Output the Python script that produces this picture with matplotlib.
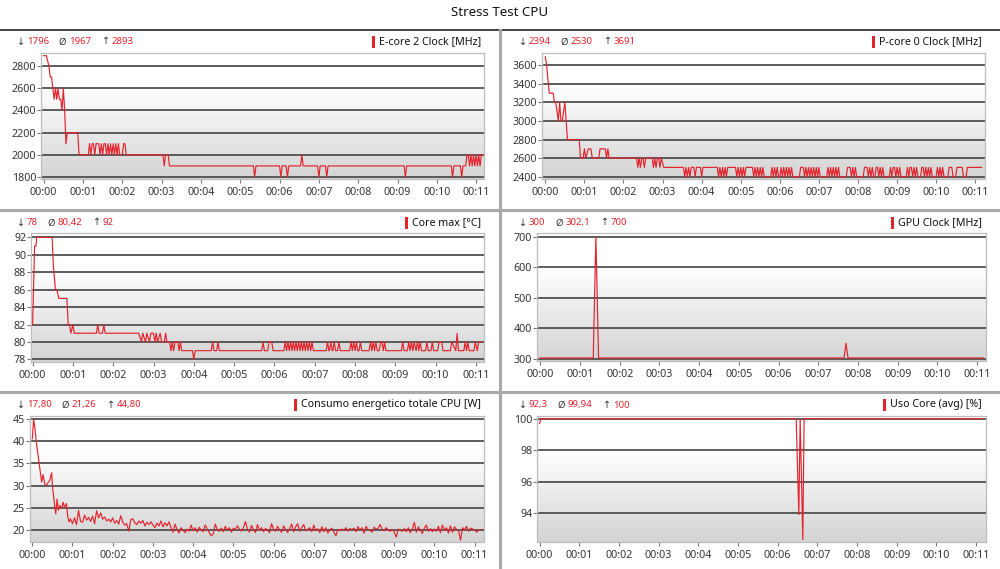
import numpy as np
import matplotlib
matplotlib.use("Agg")
import matplotlib.pyplot as plt
from matplotlib.patches import Rectangle
from matplotlib.lines import Line2D

plt.rcParams['font.family'] = ['Noto Sans', 'DejaVu Sans']

# ---------------- data: (time in seconds, value) ----------------
ecore = [(0, 2893), (4, 2893), (8, 2800), (10, 2700), (12, 2700), (14, 2600), (16, 2500), (18, 2600),
         (20, 2500), (22, 2600), (24, 2500), (26, 2500), (28, 2400), (30, 2600), (32, 2400), (34, 2100),
         (36, 2200), (52, 2200), (54, 2000),
         (68, 2000), (70, 2100), (72, 2000), (74, 2100), (76, 2100), (78, 2000), (80, 2100), (84, 2100),
         (86, 2000), (88, 2100), (90, 2000), (92, 2100), (94, 2100), (96, 2000), (98, 2100), (100, 2000),
         (102, 2100), (104, 2000), (106, 2100), (108, 2000), (110, 2100), (112, 2000), (114, 2100),
         (116, 2000), (120, 2000), (122, 2100), (124, 2100), (126, 2000),
         (182, 2000), (184, 1900), (186, 2000), (190, 2000), (192, 1900),
         (320, 1900), (322, 1800), (324, 1900), (360, 1900), (362, 1800), (364, 1900), (370, 1900),
         (372, 1800), (374, 1900), (392, 1900), (394, 2000), (396, 1900), (418, 1900), (420, 1800),
         (422, 1900), (430, 1900), (432, 1800), (434, 1900), (550, 1900), (552, 1800), (554, 1900),
         (622, 1900), (624, 1800), (626, 1900), (636, 1900), (638, 1800), (640, 1900), (644, 1900),
         (646, 2000), (648, 2000), (650, 1900), (652, 2000), (654, 1900), (656, 2000), (658, 1900),
         (660, 2000), (662, 1900), (664, 2000), (666, 1900), (668, 2000), (670, 2000)]

pcore = [(0, 3691), (2, 3600), (6, 3300), (12, 3300), (14, 3200), (16, 3200), (18, 3100), (20, 3000),
         (22, 3200), (24, 3000), (26, 3000), (28, 3100), (30, 3200), (34, 2800), (52, 2800), (54, 2600),
         (58, 2600), (60, 2700), (62, 2600), (66, 2700), (70, 2700), (72, 2600), (82, 2600), (84, 2700),
         (92, 2700), (94, 2600), (96, 2700), (98, 2600),
         (140, 2600), (142, 2500), (144, 2600), (146, 2500), (148, 2600), (150, 2600), (152, 2500),
         (154, 2600), (164, 2600), (166, 2500), (168, 2600), (170, 2500), (172, 2600), (174, 2600),
         (176, 2500), (178, 2600), (182, 2500),
         (212, 2500), (214, 2400), (216, 2500), (218, 2400), (220, 2500), (222, 2400), (224, 2500),
         (228, 2500), (230, 2400), (232, 2500), (238, 2500), (240, 2400), (242, 2500), (264, 2500),
         (266, 2400), (268, 2500), (270, 2400), (272, 2500), (274, 2400), (276, 2500), (278, 2400),
         (280, 2500), (292, 2500), (294, 2400), (296, 2500), (298, 2400), (300, 2500), (302, 2400),
         (304, 2500), (306, 2400), (308, 2500), (318, 2500), (320, 2400), (322, 2500), (324, 2400),
         (326, 2500), (328, 2400), (330, 2500), (332, 2400), (334, 2500), (336, 2400), (346, 2400),
         (348, 2500), (350, 2400), (352, 2500), (354, 2400), (356, 2500), (358, 2400), (360, 2400),
         (362, 2500), (364, 2400), (366, 2500), (368, 2400), (370, 2500), (372, 2400), (374, 2500),
         (376, 2400), (378, 2500), (380, 2400), (390, 2400), (392, 2500), (396, 2500), (398, 2400),
         (400, 2500), (402, 2400), (404, 2500), (406, 2400), (408, 2500), (410, 2400), (412, 2500),
         (414, 2400), (416, 2500), (418, 2400), (420, 2500), (422, 2400), (432, 2400), (434, 2500),
         (436, 2400), (438, 2500), (440, 2400), (442, 2500), (444, 2400), (446, 2500), (448, 2400),
         (450, 2500), (452, 2400), (462, 2400), (464, 2500), (468, 2500), (470, 2400), (472, 2500),
         (474, 2400), (476, 2500), (478, 2400), (488, 2400), (490, 2500), (494, 2500), (496, 2400),
         (498, 2500), (500, 2400), (502, 2500), (504, 2400), (506, 2400), (508, 2500), (510, 2500),
         (512, 2400), (514, 2500), (516, 2400), (518, 2500), (520, 2400), (528, 2400), (530, 2500),
         (532, 2400), (534, 2500), (536, 2500), (538, 2400), (540, 2500), (542, 2400), (544, 2500),
         (546, 2400), (554, 2400), (556, 2500), (558, 2400), (560, 2500), (562, 2500), (564, 2400),
         (566, 2500), (568, 2400), (570, 2500), (572, 2400), (576, 2400), (578, 2500), (580, 2500),
         (582, 2400), (584, 2500), (586, 2400), (588, 2500), (590, 2400), (592, 2500), (594, 2400),
         (600, 2400), (602, 2500), (604, 2400), (606, 2500), (608, 2400), (610, 2500), (612, 2400),
         (618, 2400), (620, 2500), (624, 2500), (626, 2400), (630, 2400), (632, 2500), (640, 2500),
         (642, 2400), (646, 2400), (648, 2500), (670, 2500)]

temp = [(0, 82), (3, 91), (5, 91), (6, 92), (29, 92), (31, 88.6), (34, 86), (36, 86), (39, 85), (51, 85),
        (53, 82), (55, 82), (57, 81), (60, 82), (62, 81), (95, 81), (97, 82), (99, 81), (104, 81),
        (106, 82), (108, 81),
        (158, 81), (162, 80), (164, 81), (168, 80), (170, 81), (174, 80), (176, 81), (180, 81), (182, 80),
        (184, 81), (186, 80), (190, 81), (192, 80), (196, 80), (198, 81), (200, 80), (204, 80), (206, 79),
        (208, 80), (210, 79), (212, 80), (216, 80), (218, 79), (220, 80), (222, 79), (238, 79), (240, 78),
        (242, 79), (266, 79), (268, 80), (270, 79), (274, 79), (276, 80), (278, 79),
        (341, 79), (343, 80), (345, 79), (350, 79), (352, 80), (356, 80), (358, 79), (374, 79), (376, 80),
        (378, 79), (380, 80), (382, 79), (384, 80), (386, 79), (388, 80), (390, 79), (392, 80), (394, 79),
        (396, 80), (398, 79), (400, 80), (402, 79), (404, 80), (406, 79), (408, 80), (410, 79), (412, 80),
        (414, 79), (416, 80), (418, 79), (437, 79), (439, 80), (441, 79), (442, 79), (444, 80), (446, 79),
        (447, 79), (449, 80), (451, 79), (454, 79), (456, 80), (458, 79), (472, 79), (474, 80), (476, 79),
        (478, 80), (480, 79), (482, 80), (484, 79), (486, 79), (488, 80), (490, 79), (501, 79), (503, 80),
        (505, 79), (507, 80), (509, 79), (511, 80), (513, 79), (516, 79), (518, 80), (520, 80), (522, 79),
        (524, 80), (526, 79), (528, 79), (549, 79), (551, 80), (553, 79), (558, 79), (560, 80), (562, 79),
        (564, 80), (566, 79), (568, 80), (571, 79), (573, 80), (575, 79), (577, 80), (579, 79), (585, 79),
        (587, 80), (589, 79), (593, 79), (595, 80), (597, 79), (603, 79), (605, 80), (609, 80), (611, 79),
        (622, 79), (624, 80), (630, 79), (632, 81), (634, 79), (642, 79), (644, 80), (646, 79), (648, 80),
        (650, 79), (657, 79), (659, 80), (662, 79), (664, 80), (666, 80), (668, 80)]

gpu = [(0, 302), (80, 302), (84, 700), (88, 302), (459, 302), (462, 350), (465, 302), (669, 302)]

power_head = [(0, 40.5), (2, 44.8), (4, 42.8), (6, 39.8), (8, 37.5), (10, 35.3), (12, 33.0), (14, 30.8),
              (16, 32.5), (19, 30.2), (21, 30.1), (24, 30.8), (26, 31.2), (29, 32.9), (30, 30.0),
              (33, 26.0), (35, 23.7), (37, 27.0), (39, 24.5), (41, 25.6), (44, 24.9), (46, 26.3),
              (48, 25.2), (51, 26.0), (53, 23.0), (55, 21.9), (57, 22.6)]
# from 01:00 on, one reading every 3 s
power_tail = [
    21.5, 22.8, 21.3, 24.5, 22.0, 21.8, 23.4, 22.3, 22.9, 22.0, 23.2, 21.5, 24.4, 22.8, 23.9, 22.5, 23.0, 22.1, 22.5, 21.9,
    22.8, 21.6, 22.2, 21.4, 23.3, 21.8, 21.2, 21.5, 19.8, 22.4, 22.6, 21.7, 21.3, 22.1, 21.6, 22.2, 21.0, 21.8, 21.3, 21.9,
    21.2, 20.6, 21.6, 21.0, 22.1, 20.8, 21.7, 21.0, 21.9, 20.6, 19.6, 21.4, 20.2, 19.4, 20.6, 20.0, 19.5, 20.3, 19.8, 21.2,
    19.9, 20.6, 19.6, 20.7, 20.1, 19.7, 21.2, 20.3, 19.5, 18.8, 19.2, 21.4, 20.2, 19.8, 20.5, 19.7, 20.9, 20.0, 20.6, 19.6,
    20.5, 20.2, 21.0, 20.4, 19.8, 20.6, 22.0, 20.3, 19.6, 21.1, 20.2, 19.5, 21.3, 20.0, 20.6, 19.7, 20.4, 20.1, 19.5, 21.5,
    20.3, 19.8, 20.9, 20.1, 19.6, 21.0, 20.2, 19.5, 20.4, 21.4, 19.7, 20.8, 21.5, 19.8, 20.6, 21.3, 19.9, 20.2, 20.6, 19.7,
    21.2, 19.9, 20.4, 19.5, 20.8, 19.7, 20.6, 19.4, 20.1, 20.5, 19.6, 18.8, 20.2, 19.9, 20.3, 20.0, 20.6, 19.8, 20.4, 20.2,
    20.5, 19.7, 20.8, 20.1, 20.6, 19.4, 20.9, 20.2, 20.0, 19.6, 20.7, 20.3, 20.5, 21.3, 20.2, 19.9, 20.6, 20.1, 19.8, 20.2,
    19.6, 18.5, 20.3, 20.0, 19.8, 20.4, 19.7, 20.6, 19.5, 20.2, 21.8, 19.6, 20.8, 20.1, 19.3, 20.5, 21.2, 19.8, 20.4, 19.7,
    20.3, 19.8, 20.9, 19.5, 21.2, 20.0, 20.6, 19.4, 21.0, 19.6, 20.8, 20.2, 19.9, 17.8, 20.6, 20.1, 20.9, 19.8, 20.5, 20.3,
    20.1, 19.6, 20.0, 20.2]
power_tail_start, power_tail_step = 60, 3

usage = [(0, 99.7), (2, 100), (388, 100), (392, 93.9), (394, 100), (398, 92.3), (400, 100), (670, 100)]

titles = ["E-core 2 Clock [MHz]", "P-core 0 Clock [MHz]", "Core max [°C]",
          "GPU Clock [MHz]", "Consumo energetico totale CPU [W]", "Uso Core (avg) [%]"]
stats = [("1796", "1967", "2893"), ("2394", "2530", "3691"), ("78", "80,42", "92"),
         ("300", "302,1", "700"), ("17,80", "21,26", "44,80"), ("92,3", "99,94", "100")]
yticks = [[1800, 2000, 2200, 2400, 2600, 2800], [2400, 2600, 2800, 3000, 3200, 3400, 3600],
          [78, 80, 82, 84, 86, 88, 90, 92], [300, 400, 500, 600, 700],
          [20, 25, 30, 35, 40, 45], [94, 96, 98, 100]]
xtick_minutes = list(range(0, 12))

power = power_head + [(power_tail_start + k * power_tail_step, val) for k, val in enumerate(power_tail)]
series = [ecore, pcore, temp, gpu, power, usage]

# ---------------- layout (pixels) ----------------
W, H = 1000, 569
fig = plt.figure(figsize=(W / 100, H / 100), dpi=100)
fig.patch.set_facecolor('white')

def frect(l, t, r, b):
    return [l / W, 1 - b / H, (r - l) / W, (b - t) / H]

boxes = [(41, 53, 484, 179), (542, 53, 985, 179),
         (31, 233, 484, 362), (537, 233, 986, 361),
         (30, 416, 484, 542), (537, 416, 986, 542)]
xlims = [(-4.1, 672), (-5.1, 675), (-2.4, 672), (-5, 673.5), (-3.4, 674), (-3.9, 675)]
ylims = [(1782, 2917), (2375, 3733), (77.7, 92.5), (292, 713), (17.4, 45.6), (92.15, 100.17)]
header_y = [42, 42, 223, 223, 405, 405]
header_x = [16, 518, 16, 518, 16, 518]
label_right = [481, 982, 481, 982, 481, 982]

RED = '#e3232c'
TXT = '#333333'

grad = np.ones((200, 1))
n0 = 55
grad[n0:, 0] = np.linspace(1.0, 0.83, 200 - n0)
grad_rgb = np.dstack([grad, grad, grad])

renderer = fig.canvas.get_renderer()

for i in range(6):
    ax = fig.add_axes(frect(*boxes[i]))
    ax.imshow(grad_rgb, extent=[0, 1, 0, 1], transform=ax.transAxes, aspect='auto',
              interpolation='bilinear', zorder=0)
    t = [p[0] for p in series[i]]
    v = [p[1] for p in series[i]]
    ax.plot(t, v, color=RED, lw=0.85, zorder=3)
    ax.set_xlim(*xlims[i])
    ax.set_ylim(*ylims[i])
    ax.set_yticks(yticks[i])
    ax.set_xticks([m * 60 for m in xtick_minutes])
    ax.set_xticklabels([f"00:{m:02d}" for m in xtick_minutes])
    for y in yticks[i]:
        ax.axhline(y, color='#505050', lw=1.3, zorder=2)
    for s in ax.spines.values():
        s.set_color('#bdbdbd')
        s.set_linewidth(0.9)
    ax.tick_params(axis='both', length=3, width=0.8, color='#777777', labelsize=7.7,
                   labelcolor=TXT)
    ax.tick_params(axis='y', pad=0.5)
    ax.tick_params(axis='x', pad=2.5)

    # header stats
    x = header_x[i]
    y = 1 - header_y[i] / H
    for sym, val in zip(["↓", "Ø", "↑"], stats[i]):
        t1 = fig.text(x / W, y, sym, fontsize=6.9, color=TXT, va='center', ha='left')
        x += t1.get_window_extent(renderer).width + 2.5
        t2 = fig.text(x / W, y, val, fontsize=6.9, color=RED, va='center', ha='left')
        x += t2.get_window_extent(renderer).width + 10
    lab = fig.text(label_right[i] / W, y, titles[i], fontsize=7.7, color='#111111',
                   va='center', ha='right')
    lw_ = lab.get_window_extent(renderer).width
    bx = label_right[i] - lw_ - 7
    fig.add_artist(Rectangle((bx / W, y - 6 / H), 3 / W, 12 / H, transform=fig.transFigure,
                             facecolor=RED, edgecolor='none'))

# title and separators
fig.text(0.5, 1 - 13 / H, "Stress Test CPU", ha='center', va='center', fontsize=9.6,
         fontweight='semibold', color='#111111')
fig.add_artist(Line2D([0, 1], [1 - 29.5 / H] * 2, color='#222222', lw=1.2, transform=fig.transFigure))
sep = '#a9a9a9'
fig.add_artist(Line2D([499.5 / W] * 2, [0, 1 - 30 / H], color=sep, lw=2.2, transform=fig.transFigure))
fig.add_artist(Line2D([0, 1], [1 - 209.5 / H] * 2, color=sep, lw=2.2, transform=fig.transFigure))
fig.add_artist(Line2D([0, 1], [1 - 392 / H] * 2, color=sep, lw=2.2, transform=fig.transFigure))

fig.savefig("out.png", dpi=100)
